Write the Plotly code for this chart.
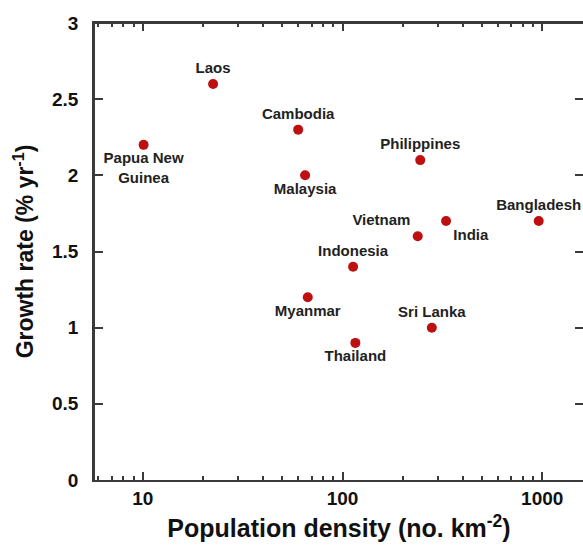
import plotly.graph_objects as go

# ---- data ----
countries = ["Papua New<br>Guinea", "Laos", "Cambodia", "Malaysia", "Philippines",
             "Vietnam", "India", "Bangladesh", "Indonesia", "Myanmar", "Thailand", "Sri Lanka"]
density = [10.1, 22.5, 60, 65, 245, 238, 330, 960, 113, 67, 116, 280]
growth = [2.2, 2.6, 2.3, 2.0, 2.1, 1.6, 1.7, 1.7, 1.4, 1.2, 0.9, 1.0]
y_ticks = [0, 0.5, 1, 1.5, 2, 2.5, 3]
y_tick_labels = ["0", "0.5", "1", "1.5", "2", "2.5", "3"]
x_ticks = [10, 100, 1000]
x_tick_labels = ["10", "100", "1000"]

# ---- label placement (styling only) ----
label_pos = ["bottom center", "top center", "top center", "bottom center", "top center",
             "top left", "bottom right", "top center", "top center", "bottom center",
             "bottom center", "top center"]

MARK = "#BE1010"
AX = "#3a3a3a"
FONT = "Arial, Liberation Sans, sans-serif"

fig = go.Figure()
fig.add_trace(go.Scatter(
    x=density, y=growth, mode="markers+text",
    text=countries, textposition=label_pos,
    textfont=dict(family=FONT, size=15, color="#222222", weight="bold"),
    marker=dict(color=MARK, size=10),
    showlegend=False, cliponaxis=False))

fig.update_layout(
    width=590, height=557,
    margin=dict(l=95, r=4, t=23, b=77),
    paper_bgcolor="white", plot_bgcolor="white",
    font=dict(family=FONT, color="#111111"),
    xaxis=dict(
        type="log", range=[0.761, 3.204],
        tickvals=x_ticks, ticktext=x_tick_labels,
        ticks="inside", ticklen=8, tickwidth=2, tickcolor=AX,
        minor=dict(ticks="inside", ticklen=4, tickwidth=1.5, tickcolor=AX, dtick="D1"),
        showline=True, linewidth=2, linecolor=AX, mirror="ticks",
        showgrid=False, zeroline=False,
        tickfont=dict(size=19, family=FONT, weight="bold", color="#111111"),
        title=dict(text="Population density (no. km<sup>-2</sup>)", standoff=12,
                   font=dict(size=25, family=FONT, weight="bold", color="#111111")),
    ),
    yaxis=dict(
        range=[0, 3], tickvals=y_ticks, ticktext=y_tick_labels,
        ticks="inside", ticklen=8, tickwidth=2, tickcolor=AX,
        showline=True, linewidth=2.5, linecolor=AX, mirror="ticks",
        showgrid=False, zeroline=False,
        tickfont=dict(size=19, family=FONT, weight="bold", color="#111111"),
        ticklabelstandoff=10,
        title=dict(text="Growth rate (% yr<sup>-1</sup>)", standoff=12,
                   font=dict(size=23, family=FONT, weight="bold", color="#111111")),
    ),
    shapes=[dict(type="line", xref="paper", yref="paper", x0=0, x1=1, y0=1, y1=1,
                 line=dict(color=AX, width=2))],
)

fig.write_html(
    "out.html",
    config={"displayModeBar": False},
    post_script="document.body.style.margin='0';document.body.style.overflow='hidden';",
)
